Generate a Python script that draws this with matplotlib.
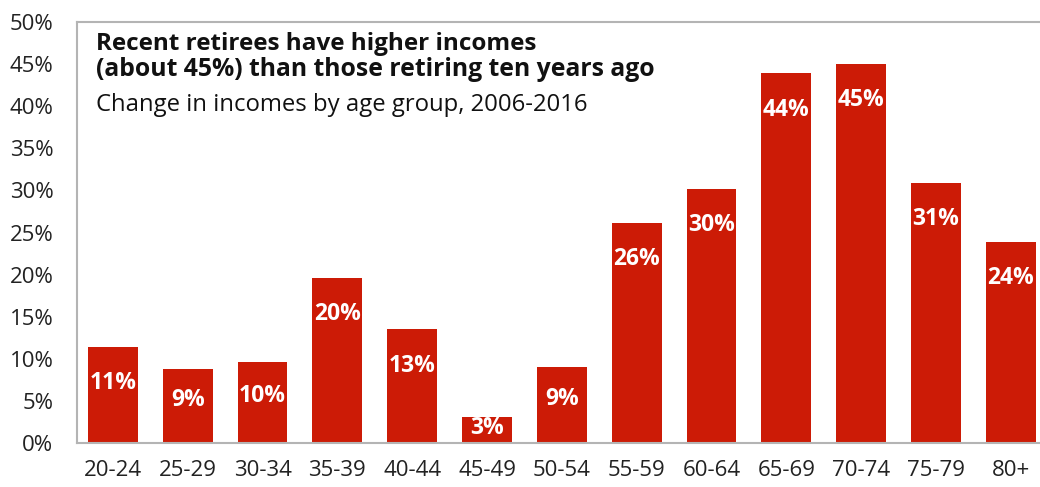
"""
Recent retirees have higher incomes - change in incomes by age group
"""

import numpy as np
import matplotlib.pyplot as plt

# Adatok
korcsoport = ['20-24', '25-29', '30-34', '35-39', '40-44', '45-49', '50-54',
              '55-59', '60-64', '65-69', '70-74', '75-79', '80+']
valtozas = [11.4, 8.8, 9.6, 19.6, 13.5, 3.1, 9.0, 26.1, 30.2, 43.9, 45.0, 30.9, 23.9]
cimkek = ['11%', '9%', '10%', '20%', '13%', '3%', '9%', '26%', '30%', '44%', '45%', '31%', '24%']

plt.rcParams['font.family'] = ['Open Sans', 'DejaVu Sans']

piros = '#cc1b06'
szurke = '#b4b4b4'

fig = plt.figure(figsize=(10.4, 4.87), dpi=100)
ax = fig.add_axes([0.074, 0.0903, 0.926, 0.8645])

x = np.arange(len(korcsoport))
ax.bar(x, valtozas, width=0.667, color=piros, zorder=2)

# Feliratok az oszlopokon
for xi, v, c in zip(x, valtozas, cimkek):
    y = max(v - 4.3, v * 0.58)
    ax.text(xi, y, c, ha='center', va='center', color='white',
            fontsize=16.5, fontweight='bold', zorder=3)

ax.set_xlim(-0.48, 12.39)
ax.set_ylim(0, 50)
ax.set_xticks(x)
ax.set_xticklabels(korcsoport, fontsize=16, color='#222222')
ax.set_yticks(np.arange(0, 51, 5))
ax.set_yticklabels([f'{t}%' for t in range(0, 51, 5)], fontsize=16, color='#222222')
ax.tick_params(axis='both', length=0)
ax.tick_params(axis='x', pad=12)
ax.tick_params(axis='y', pad=17)

for s in ['left', 'bottom', 'top']:
    ax.spines[s].set_color(szurke)
    ax.spines[s].set_linewidth(1.5)
ax.spines['right'].set_visible(False)

# Cím
ax.text(0.020, 0.933, 'Recent retirees have higher incomes',
        transform=ax.transAxes, ha='left', va='baseline', fontsize=17.5,
        fontweight='bold', color='#111111')
ax.text(0.020, 0.872, '(about 45%) than those retiring ten years ago',
        transform=ax.transAxes, ha='left', va='baseline', fontsize=17.8,
        fontweight='bold', color='#111111')
ax.text(0.020, 0.789, 'Change in incomes by age group, 2006-2016',
        transform=ax.transAxes, ha='left', va='baseline', fontsize=17.2,
        color='#111111')

plt.savefig('out.png', dpi=100)
